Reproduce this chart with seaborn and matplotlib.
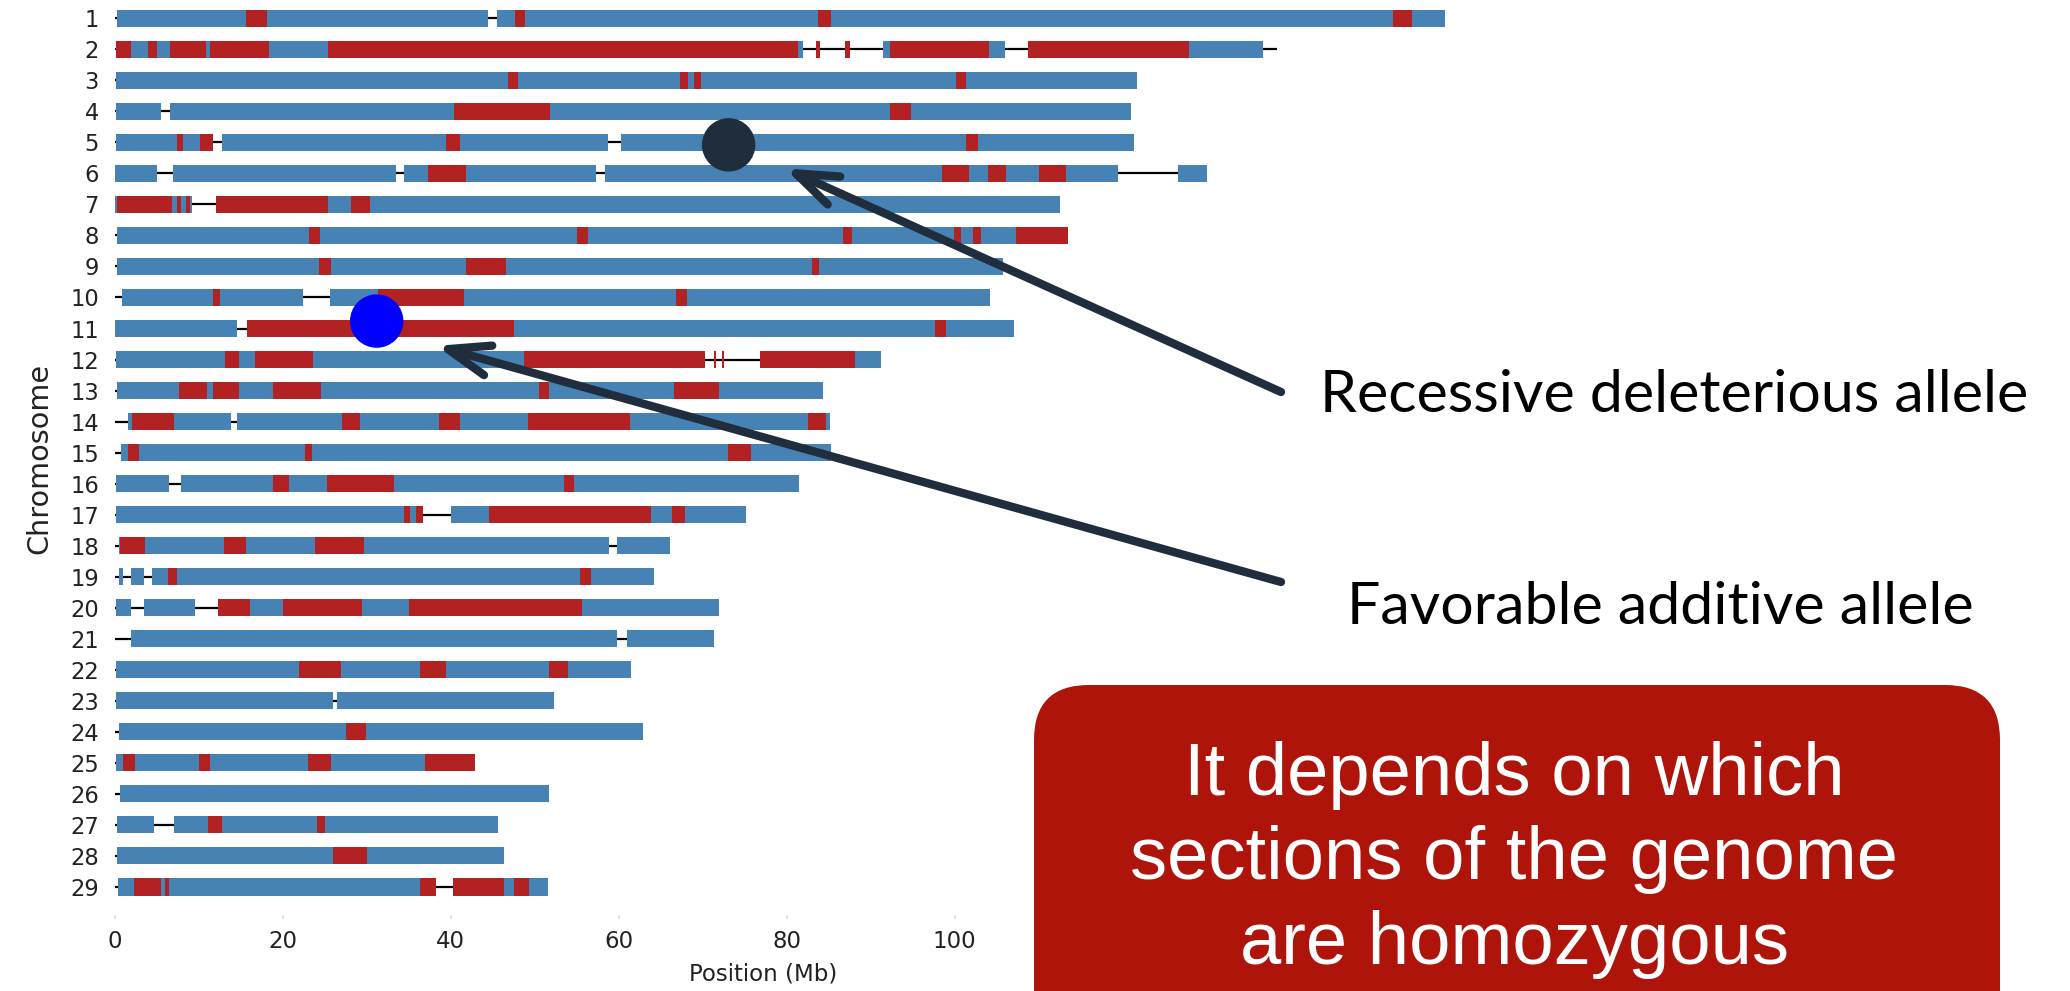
import numpy as np
import pandas as pd
import matplotlib
matplotlib.use("Agg")
import matplotlib.pyplot as plt
import seaborn as sns
from matplotlib.patches import FancyBboxPatch

# chromosome layout (positions in Mb)
CHROMS = list(range(1, 30))
CHROM_END = [158.4, 138.4, 121.7, 121.0, 121.4, 130.1, 112.6, 113.5, 105.8, 104.2,
             107.1, 91.2, 84.3, 85.2, 85.3, 81.5, 75.2, 66.1, 64.2, 72.0,
             71.4, 61.5, 52.3, 62.9, 42.9, 51.7, 45.6, 46.4, 51.6]
MARKER_START = [0.3, 0.2, 0.2, 0.2, 0.2, 0.1, 0.1, 0.3, 0.3, 0.9,
                0.1, 0.2, 0.3, 1.6, 0.8, 0.2, 0.2, 0.5, 0.5, 0.2,
                2.0, 0.2, 0.2, 0.5, 0.2, 0.7, 0.3, 0.3, 0.4]

# stretches with no markers (only the black backbone shows)
GAPS = [
    [(44.5, 45.5)],
    [(82.0, 91.5), (106.0, 108.8), (136.7, 138.4)],
    [],
    [(5.5, 6.6)],
    [(11.7, 12.8), (58.7, 60.3)],
    [(5.1, 7.0), (33.5, 34.5), (57.3, 58.4), (119.5, 126.6)],
    [(9.2, 12.1)],
    [],
    [],
    [(22.4, 25.6)],
    [(14.6, 15.8)],
    [(70.3, 76.8)],
    [],
    [(13.8, 14.6)],
    [],
    [(6.5, 7.9)],
    [(36.7, 40.0)],
    [(58.8, 59.8)],
    [(1.0, 2.0), (3.5, 4.5)],
    [(2.0, 3.5), (9.6, 12.3)],
    [(59.8, 61.0)],
    [],
    [(26.0, 26.5)],
    [],
    [],
    [],
    [(4.7, 7.1)],
    [],
    [(38.3, 40.3)],
]

# homozygous runs (red)
RED_SPANS = [
    [(15.6, 18.2), (47.7, 48.9), (83.8, 85.3), (152.2, 154.4)],
    [(0.2, 2.0), (4.0, 5.0), (6.6, 10.9), (11.4, 18.4), (25.4, 81.4), (83.5, 84.0),
     (87.0, 87.5), (92.3, 104.1), (108.8, 127.9)],
    [(46.8, 48.0), (67.3, 68.3), (69.0, 69.8), (100.2, 101.4)],
    [(40.4, 51.8), (92.3, 94.8)],
    [(7.4, 8.2), (10.2, 11.7), (39.4, 41.1), (101.4, 102.8)],
    [(37.3, 41.8), (98.5, 101.7), (104.0, 106.1), (110.0, 113.3)],
    [(0.3, 6.8), (7.4, 7.9), (8.5, 9.0), (12.1, 25.4), (28.2, 30.4)],
    [(23.2, 24.4), (55.0, 56.3), (86.7, 87.8), (99.9, 100.8), (102.2, 103.1), (107.3, 113.5)],
    [(24.3, 25.8), (41.8, 46.6), (83.0, 83.9)],
    [(11.7, 12.6), (31.3, 41.6), (66.8, 68.2)],
    [(15.8, 47.6), (97.7, 99.0)],
    [(13.2, 14.8), (16.7, 23.6), (48.7, 70.3), (71.3, 71.6), (72.3, 72.5), (76.8, 88.1)],
    [(7.7, 11.0), (11.7, 14.8), (18.8, 24.6), (50.5, 51.7), (66.6, 72.0)],
    [(2.1, 7.1), (27.1, 29.2), (38.6, 41.1), (49.2, 61.4), (82.5, 84.7)],
    [(1.6, 2.9), (22.7, 23.5), (73.0, 75.8)],
    [(18.8, 20.8), (25.3, 33.3), (53.5, 54.7)],
    [(34.5, 35.2), (35.9, 36.7), (44.6, 63.9), (66.4, 67.9)],
    [(0.7, 3.6), (13.0, 15.7), (23.9, 29.7)],
    [(6.4, 7.4), (55.4, 56.7)],
    [(12.3, 16.1), (20.0, 29.4), (35.1, 55.7)],
    [],
    [(21.9, 27.0), (36.4, 39.4), (51.7, 54.0)],
    [],
    [(27.5, 29.9)],
    [(1.0, 2.4), (10.1, 11.4), (23.0, 25.8), (37.0, 42.9)],
    [],
    [(11.1, 12.8), (24.1, 25.1)],
    [(26.0, 30.0)],
    [(2.3, 5.5), (6.0, 6.5), (36.4, 38.3), (40.3, 46.4), (47.6, 49.3)],
]

# highlighted alleles
ALLELE_NAMES = ["Recessive deleterious allele", "Favorable additive allele"]
ALLELE_POS = [73.1, 31.2]
ALLELE_CHROM = [5.08, 10.76]
ALLELE_COLORS = ["#1F2D3D", "#0000FF"]
ARROW_TIPS = [(79.8, 5.84), (38.3, 11.56)]

X_TICKS = [0, 20, 40, 60, 80, 100]

BLUE = "#4682B4"
RED = "#B22222"
DARK = "#1F2D3D"
BOX_RED = "#AE140A"

sns.set_theme(style="white")
plt.rcParams['font.family'] = ['DejaVu Sans']

fig = plt.figure(figsize=(20.7, 9.91), dpi=100)
ax = fig.add_axes([0.0505, 0.0768, 0.6744, 0.922])

bar_h = 0.55
for i, chrom in enumerate(CHROMS):
    end = CHROM_END[i]
    ax.hlines(chrom, 0, end, color='black', lw=1.6, zorder=1)
    # marker coverage = start..end minus gaps
    segs = []
    cur = MARKER_START[i]
    for g0, g1 in GAPS[i]:
        if g0 > cur:
            segs.append((cur, g0 - cur))
        cur = max(cur, g1)
    if end > cur:
        segs.append((cur, end - cur))
    ax.broken_barh(segs, (chrom - bar_h / 2, bar_h), facecolors=BLUE, edgecolor='none', zorder=2)
    reds = [(a, b - a) for a, b in RED_SPANS[i]]
    if reds:
        ax.broken_barh(reds, (chrom - bar_h / 2, bar_h), facecolors=RED, edgecolor='none', zorder=3)

alleles = pd.DataFrame({"name": ALLELE_NAMES, "pos": ALLELE_POS, "chrom": ALLELE_CHROM})
sns.scatterplot(data=alleles, x="pos", y="chrom", hue="name",
                palette=dict(zip(ALLELE_NAMES, ALLELE_COLORS)),
                s=1480, linewidth=0, legend=False, ax=ax, zorder=5)

ax.set_xlim(-1.2, 165)
ax.set_ylim(29.9, 0.45)
ax.set_yticks(CHROMS)
ax.set_yticklabels([str(c) for c in CHROMS])
ax.set_xticks(X_TICKS)
ax.tick_params(axis='y', length=0, pad=4, labelsize=16.3, labelcolor='#222222')
ax.tick_params(axis='x', length=3, color='#dddddd', pad=8, labelsize=16.5,
               labelcolor='#222222', bottom=True)
ax.set_xlabel('Position (Mb)', fontsize=16.5, color='#222222')
ax.set_ylabel('Chromosome', fontsize=20.7, color='#222222')
ax.xaxis.set_label_coords(0.472, -0.052)
ax.yaxis.set_label_coords(-0.037, 0.5)
sns.despine(ax=ax, left=True, bottom=True, top=True, right=True)

# arrows from the labels to the alleles
tails = [(1281, 599), (1281, 409)]
for tip, tail in zip(ARROW_TIPS, tails):
    ax.annotate("", xy=tip, xycoords='data', xytext=tail, textcoords='figure pixels',
                arrowprops=dict(arrowstyle='->,head_length=30,head_width=11', mutation_scale=1,
                                lw=6, color=DARK, shrinkA=0, shrinkB=0),
                annotation_clip=False, zorder=6)

fig.text(1674 / 2070, 1 - 396 / 991, ALLELE_NAMES[0], fontsize=42.5, family='Lato',
         ha='center', va='center', color='black')
fig.text(1660 / 2070, 1 - 607 / 991, ALLELE_NAMES[1], fontsize=42.5, family='Lato',
         ha='center', va='center', color='black')

# callout box drawn in pixel space
over = fig.add_axes([0, 0, 1, 1], zorder=10)
over.set_xlim(0, 2070)
over.set_ylim(991, 0)
over.axis('off')
over.patch.set_alpha(0)
box = FancyBboxPatch((1034, 685), 966, 420, boxstyle="round,pad=0,rounding_size=55",
                     facecolor=BOX_RED, edgecolor='none')
over.add_patch(box)
over.text(1514, 860, "It depends on which\nsections of the genome\nare homozygous",
          ha='center', va='center', color='white', fontsize=53.5, linespacing=1.29,
          family='Liberation Sans')

fig.savefig("out.png", dpi=100)
